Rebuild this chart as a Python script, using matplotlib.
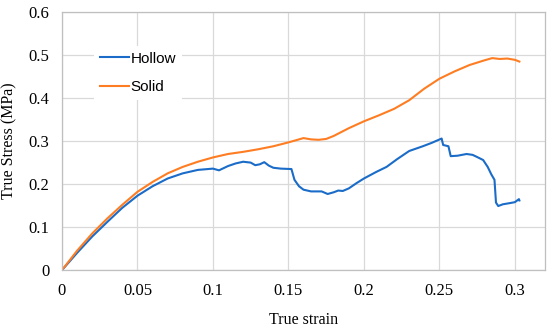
import matplotlib
matplotlib.use("Agg")
import matplotlib.pyplot as plt

# values
solid_strain = [0, 0.01, 0.02, 0.03, 0.04, 0.05, 0.06, 0.07, 0.08, 0.09, 0.1,
                0.11, 0.12, 0.13, 0.14, 0.15, 0.16, 0.165, 0.17, 0.175, 0.18,
                0.19, 0.2, 0.21, 0.22, 0.23, 0.24, 0.25, 0.26, 0.27, 0.28,
                0.285, 0.29, 0.295, 0.3, 0.303]
solid_stress = [0, 0.045, 0.085, 0.12, 0.152, 0.182, 0.205, 0.225, 0.24, 0.252, 0.262,
                0.27, 0.275, 0.281, 0.288, 0.297, 0.307, 0.304, 0.303, 0.305, 0.312,
                0.33, 0.346, 0.36, 0.375, 0.395, 0.422, 0.445, 0.462, 0.477, 0.488,
                0.493, 0.491, 0.492, 0.489, 0.485]

hollow_strain = [0, 0.01, 0.02, 0.03, 0.04, 0.05, 0.06, 0.07, 0.08, 0.09, 0.1,
                 0.104, 0.11, 0.115, 0.12, 0.125, 0.128, 0.131, 0.134, 0.137, 0.14,
                 0.145, 0.152, 0.154, 0.157, 0.16, 0.165, 0.172, 0.176, 0.18, 0.183,
                 0.186, 0.19, 0.195, 0.2, 0.208, 0.215, 0.222, 0.23, 0.239, 0.245,
                 0.2515, 0.2525, 0.256, 0.2575, 0.262, 0.268, 0.272, 0.275, 0.279,
                 0.282, 0.2845, 0.2865, 0.2875, 0.289, 0.292, 0.297, 0.3, 0.3027, 0.303]
hollow_stress = [0, 0.04, 0.078, 0.112, 0.145, 0.173, 0.195, 0.213, 0.225, 0.233, 0.236,
                 0.232, 0.242, 0.248, 0.252, 0.25, 0.244, 0.246, 0.251, 0.243, 0.238,
                 0.236, 0.235, 0.21, 0.195, 0.187, 0.183, 0.183, 0.177, 0.181, 0.185,
                 0.184, 0.19, 0.202, 0.213, 0.228, 0.24, 0.258, 0.277, 0.288, 0.296,
                 0.306, 0.291, 0.288, 0.265, 0.266, 0.27, 0.268, 0.263, 0.256,
                 0.24, 0.222, 0.21, 0.157, 0.149, 0.153, 0.156, 0.158, 0.165, 0.162]

x_ticks = [0, 0.05, 0.1, 0.15, 0.2, 0.25, 0.3]
x_tick_labels = ["0", "0.05", "0.1", "0.15", "0.2", "0.25", "0.3"]
y_ticks = [0, 0.1, 0.2, 0.3, 0.4, 0.5, 0.6]
y_tick_labels = ["0", "0.1", "0.2", "0.3", "0.4", "0.5", "0.6"]

BLUE = "#1a6cc8"
ORANGE = "#fe7d22"

plt.rcParams["font.family"] = "serif"
plt.rcParams["font.serif"] = ["Liberation Serif"]

fig = plt.figure(figsize=(5.5, 3.27), dpi=100)
ax = fig.add_axes([0.1127, 0.174, 0.8783, 0.789])

ax.plot(hollow_strain, hollow_stress, color=BLUE, lw=1.5, label="Hollow")
ax.plot(solid_strain, solid_stress, color=ORANGE, lw=1.5, label="Solid")

ax.set_xlim(0, 0.32)
ax.set_ylim(0, 0.6)
ax.set_xticks(x_ticks)
ax.set_xticklabels(x_tick_labels, fontsize=12)
ax.set_yticks(y_ticks)
ax.set_yticklabels(y_tick_labels, fontsize=12)
ax.tick_params(length=0, pad=9)
ax.grid(True, color="#d9d9d9", lw=0.9)
ax.set_axisbelow(True)
for s in ax.spines.values():
    s.set_color("#bfbfbf")
    s.set_linewidth(0.9)

ax.set_xlabel("True strain", fontsize=11.5, labelpad=10)
ax.set_ylabel("True Stress (MPa)", fontsize=11.5, labelpad=8)

leg = ax.legend(loc="upper left", bbox_to_anchor=(0.05, 0.9), frameon=True,
                framealpha=1, edgecolor="none", fancybox=False,
                prop={"family": "Liberation Sans", "size": 11},
                handlelength=1.9, handletextpad=0.1, labelspacing=0.95,
                borderpad=0.4)

fig.savefig("out.png", dpi=100, facecolor="white")
